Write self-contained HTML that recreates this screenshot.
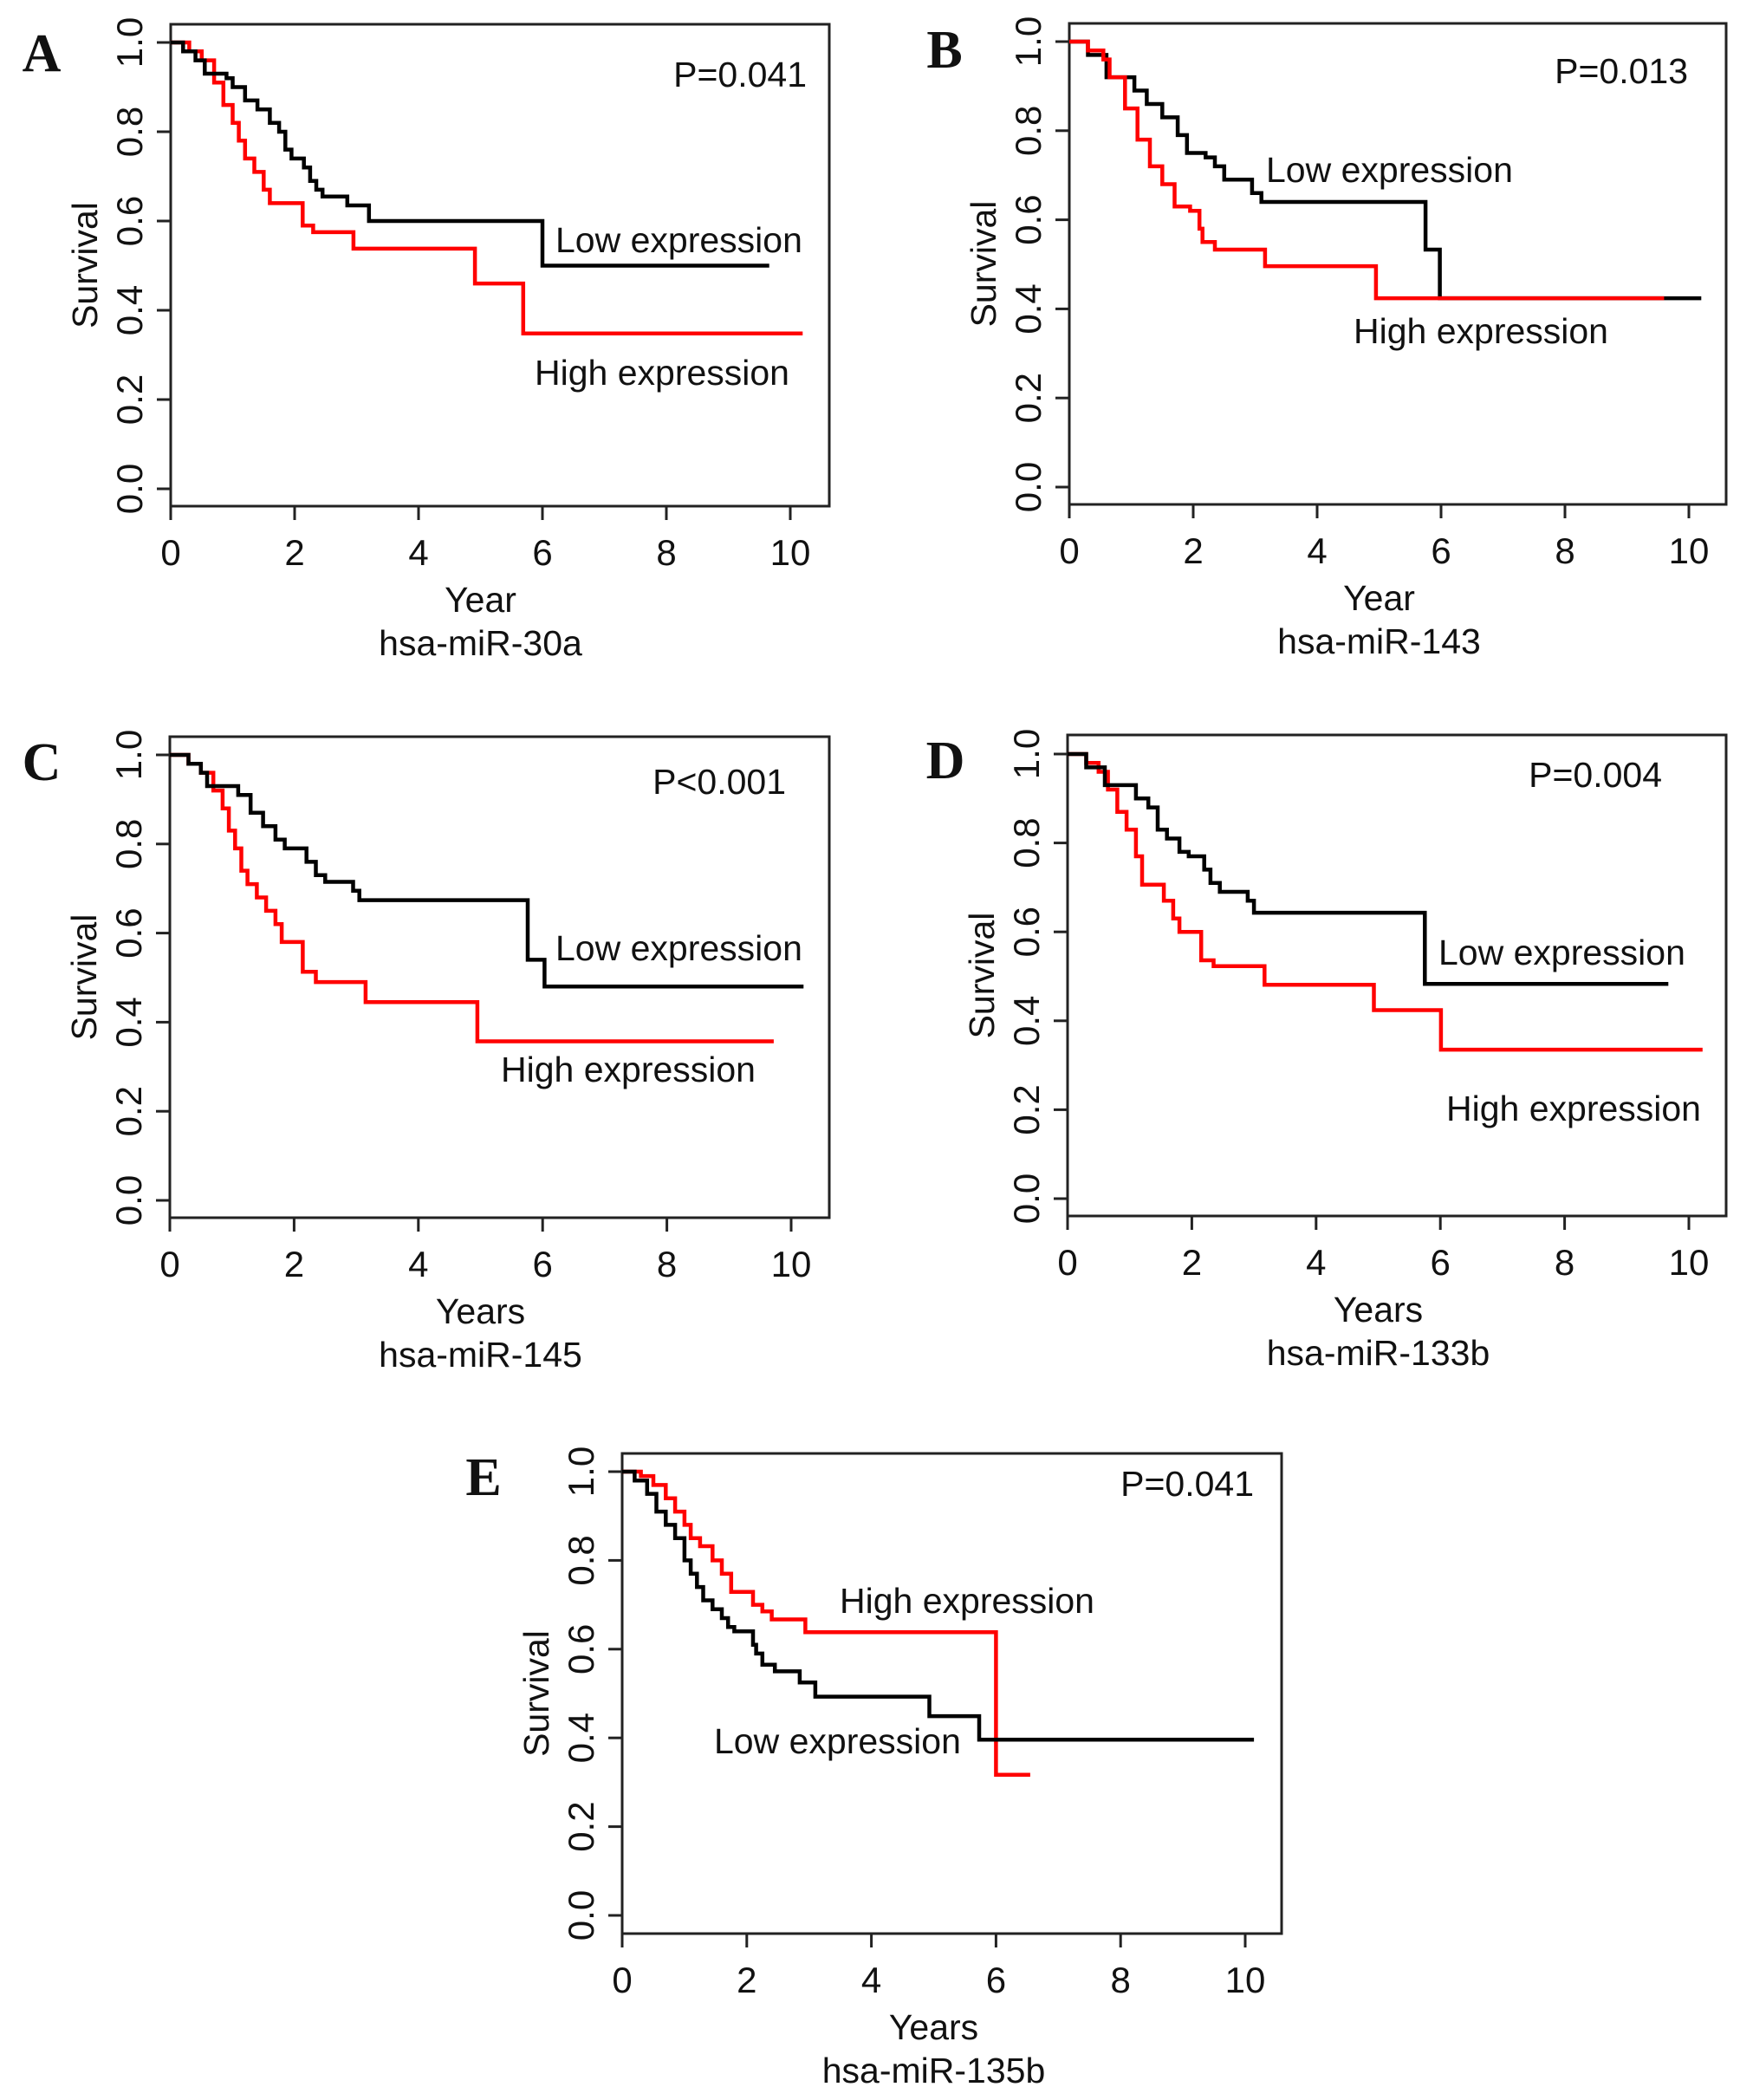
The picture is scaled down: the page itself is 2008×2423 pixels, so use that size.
<!DOCTYPE html>
<html><head><meta charset="utf-8">
<style>
html,body{margin:0;padding:0;background:#fff;}
svg{display:block;}
text{font-family:"Liberation Sans",Arial,sans-serif;fill:#111;}
.lbl{font-family:"Liberation Serif",serif;font-weight:bold;font-size:62px;}
</style></head>
<body>
<svg id="fig" width="2008" height="2423" viewBox="0 0 2008 2423" xmlns="http://www.w3.org/2000/svg"></svg>
<script>
// Panel A: hsa-miR-30a
const aLowT = [0,0.2,0.4,0.55,0.9,1.0,1.2,1.4,1.6,1.75,1.85,1.95,2.15,2.25,2.35,2.45,2.85,3.2,6.0];
const aLowS = [1.0,0.98,0.96,0.93,0.92,0.90,0.87,0.85,0.82,0.80,0.76,0.74,0.72,0.69,0.67,0.655,0.635,0.60,0.50];
const aLowEnd = 9.66;
const aHighT = [0,0.3,0.5,0.7,0.85,1.0,1.1,1.2,1.35,1.5,1.6,2.13,2.3,2.95,4.91,5.69];
const aHighS = [1.0,0.98,0.96,0.91,0.86,0.82,0.78,0.74,0.71,0.67,0.64,0.59,0.575,0.538,0.46,0.348];
const aHighEnd = 10.2;
// Panel B: hsa-miR-143
const bLowT = [0,0.3,0.6,1.05,1.25,1.5,1.75,1.9,2.2,2.35,2.5,2.95,3.1,5.75,5.98];
const bLowS = [1.0,0.97,0.92,0.89,0.86,0.83,0.79,0.75,0.74,0.72,0.69,0.66,0.64,0.533,0.424];
const bLowEnd = 10.2;
const bHighT = [0,0.3,0.55,0.65,0.9,1.1,1.3,1.5,1.7,1.95,2.1,2.15,2.35,3.16,4.95];
const bHighS = [1.0,0.98,0.96,0.92,0.85,0.78,0.72,0.68,0.63,0.62,0.58,0.55,0.533,0.496,0.424];
const bHighEnd = 9.6;
// Panel C: hsa-miR-145
const cLowT = [0,0.3,0.5,0.6,1.1,1.3,1.5,1.7,1.85,2.2,2.35,2.5,2.95,3.05,5.76,6.03];
const cLowS = [1.0,0.98,0.96,0.93,0.91,0.87,0.84,0.81,0.79,0.76,0.73,0.715,0.695,0.674,0.54,0.48];
const cLowEnd = 10.2;
const cHighT = [0,0.3,0.5,0.7,0.85,0.95,1.05,1.15,1.25,1.4,1.55,1.7,1.8,2.14,2.35,3.15,4.95];
const cHighS = [1.0,0.98,0.96,0.92,0.88,0.83,0.79,0.74,0.71,0.68,0.65,0.62,0.58,0.513,0.49,0.445,0.357];
const cHighEnd = 9.72;
// Panel D: hsa-miR-133b
const dLowT = [0,0.3,0.6,1.1,1.3,1.45,1.6,1.8,1.95,2.2,2.3,2.45,2.9,3.0,5.75];
const dLowS = [1.0,0.97,0.93,0.90,0.88,0.83,0.81,0.78,0.77,0.74,0.71,0.69,0.67,0.643,0.483];
const dLowEnd = 9.67;
const dHighT = [0,0.3,0.5,0.65,0.8,0.95,1.1,1.2,1.55,1.7,1.8,2.15,2.35,3.17,4.93,6.01];
const dHighS = [1.0,0.98,0.96,0.92,0.87,0.83,0.77,0.706,0.67,0.63,0.60,0.536,0.523,0.481,0.424,0.335];
const dHighEnd = 10.22;
// Panel E: hsa-miR-135b
const eLowT = [0,0.2,0.4,0.55,0.7,0.85,1.0,1.1,1.2,1.3,1.45,1.6,1.7,1.8,2.1,2.15,2.25,2.45,2.85,3.1,4.93,5.73];
const eLowS = [1.0,0.98,0.95,0.91,0.88,0.85,0.80,0.77,0.74,0.71,0.69,0.67,0.65,0.64,0.61,0.59,0.565,0.55,0.525,0.493,0.449,0.396];
const eLowEnd = 10.14;
const eHighT = [0,0.3,0.5,0.7,0.85,1.0,1.1,1.25,1.45,1.6,1.75,2.1,2.25,2.4,2.94,6.0];
const eHighS = [1.0,0.99,0.97,0.94,0.91,0.88,0.85,0.832,0.80,0.77,0.729,0.70,0.685,0.667,0.638,0.317];
const eHighEnd = 6.55;

const xTicks = [0,2,4,6,8,10];
const yTicks = ["0.0","0.2","0.4","0.6","0.8","1.0"];

const NS = "http://www.w3.org/2000/svg";
const svg = document.getElementById("fig");
function mk(tag, attrs, parent){
  const e = document.createElementNS(NS, tag);
  for (const k in attrs) e.setAttribute(k, attrs[k]);
  (parent||svg).appendChild(e);
  return e;
}
function txt(parent, str, attrs){ const t = mk("text", attrs, parent); t.textContent = str; return t; }

const panels = [
  {id:"a", letter:"A", L:197, T:28, R:957, B:584, y1:49, y0:564, x10:912, lx:48, ly:82,
   p:"P=0.041", px:931, py:100, low:[641,291], high:[617,444],
   xl:"Year", sub:"hsa-miR-30a", lowT:aLowT, lowS:aLowS, lowE:aLowEnd, highT:aHighT, highS:aHighS, highE:aHighEnd},
  {id:"b", letter:"B", L:1234, T:27, R:1992, B:582, y1:48, y0:562, x10:1949, lx:1090, ly:78,
   p:"P=0.013", px:1948, py:96, low:[1461,210], high:[1562,396],
   xl:"Year", sub:"hsa-miR-143", lowT:bLowT, lowS:bLowS, lowE:bLowEnd, highT:bHighT, highS:bHighS, highE:bHighEnd},
  {id:"c", letter:"C", L:196, T:850, R:957, B:1405, y1:871, y0:1385, x10:913, lx:48, ly:900,
   p:"P<0.001", px:907, py:916, low:[641,1108], high:[578,1248],
   xl:"Years", sub:"hsa-miR-145", lowT:cLowT, lowS:cLowS, lowE:cLowEnd, highT:cHighT, highS:cHighS, highE:cHighEnd},
  {id:"d", letter:"D", L:1232, T:848, R:1992, B:1403, y1:870, y0:1383, x10:1949, lx:1091, ly:898,
   p:"P=0.004", px:1918, py:908, low:[1660,1113], high:[1669,1293],
   xl:"Years", sub:"hsa-miR-133b", lowT:dLowT, lowS:dLowS, lowE:dLowEnd, highT:dHighT, highS:dHighS, highE:dHighEnd},
  {id:"e", letter:"E", L:718, T:1677, R:1479, B:2231, y1:1698, y0:2210, x10:1437, lx:558, ly:1725,
   p:"P=0.041", px:1447, py:1726, low:[824,2023], high:[969,1861],
   xl:"Years", sub:"hsa-miR-135b", lowT:eLowT, lowS:eLowS, lowE:eLowEnd, highT:eHighT, highS:eHighS, highE:eHighEnd}
];

function stepPath(ts, ss, end, xs, ys){
  let d = "M" + xs(ts[0]) + " " + ys(ss[0]);
  for (let i = 1; i < ts.length; i++){
    d += " H" + xs(ts[i]).toFixed(1) + " V" + ys(ss[i]).toFixed(1);
  }
  d += " H" + xs(end).toFixed(1);
  return d;
}

panels.forEach(p => {
  const g = mk("g", {});
  
  
  const xs = t => p.L + (p.x10 - p.L) * t / 10;
  const ys = s => p.y0 - (p.y0 - p.y1) * s;

  const lab = txt(g, p.letter, {x:p.lx, y:p.ly, "text-anchor":"middle", class:"lbl"});
  
  

  const box = mk("rect", {x:p.L, y:p.T, width:p.R-p.L, height:p.B-p.T, fill:"none", stroke:"#222", "stroke-width":3}, g);
  
  

  const xg = mk("g", {}, g);
  
  
  mk("line", {x1:xs(0), x2:xs(10), y1:p.B, y2:p.B, stroke:"#222", "stroke-width":3}, xg);
  xTicks.forEach(v => {
    mk("line", {x1:xs(v), x2:xs(v), y1:p.B, y2:p.B+16, stroke:"#222", "stroke-width":3}, xg);
    const t = txt(xg, String(v), {x:xs(v), y:p.B+68, "text-anchor":"middle", "font-size":42});
    
    
  });
  const xt = txt(g, p.xl, {x:(xs(0)+xs(10))/2, y:p.B+122, "text-anchor":"middle", "font-size":41});
  
  
  const st = txt(g, p.sub, {x:(xs(0)+xs(10))/2, y:p.B+172, "text-anchor":"middle", "font-size":41});
  
  

  const yg = mk("g", {}, g);
  
  
  yTicks.forEach(v => {
    const yy = ys(parseFloat(v));
    mk("line", {x1:p.L-16, x2:p.L, y1:yy, y2:yy, stroke:"#222", "stroke-width":3}, yg);
    const t = txt(yg, v, {x:p.L-33, y:yy, "text-anchor":"middle", "font-size":42, transform:"rotate(-90 "+(p.L-33)+" "+yy+")"});
    
    
  });
  const cy = (p.T + p.B) / 2;
  const yt = txt(g, "Survival", {x:p.L-85, y:cy, "text-anchor":"middle", "font-size":41, transform:"rotate(-90 "+(p.L-85)+" "+cy+")"});
  
  

  const hi = mk("path", {d:stepPath(p.highT, p.highS, p.highE, xs, ys), fill:"none", stroke:"#ff0000", "stroke-width":4.5}, g);
  
  
  const lo = mk("path", {d:stepPath(p.lowT, p.lowS, p.lowE, xs, ys), fill:"none", stroke:"#000", "stroke-width":4.5}, g);
  
  
  if (p.id === "b") { g.appendChild(hi); }

  const pv = txt(g, p.p, {x:p.px, y:p.py, "text-anchor":"end", "font-size":41});
  
  
  const lt = txt(g, "Low expression", {x:p.low[0], y:p.low[1], "font-size":41});
  
  
  const ht = txt(g, "High expression", {x:p.high[0], y:p.high[1], "font-size":41});
  
  
});
</script>
</body></html>
